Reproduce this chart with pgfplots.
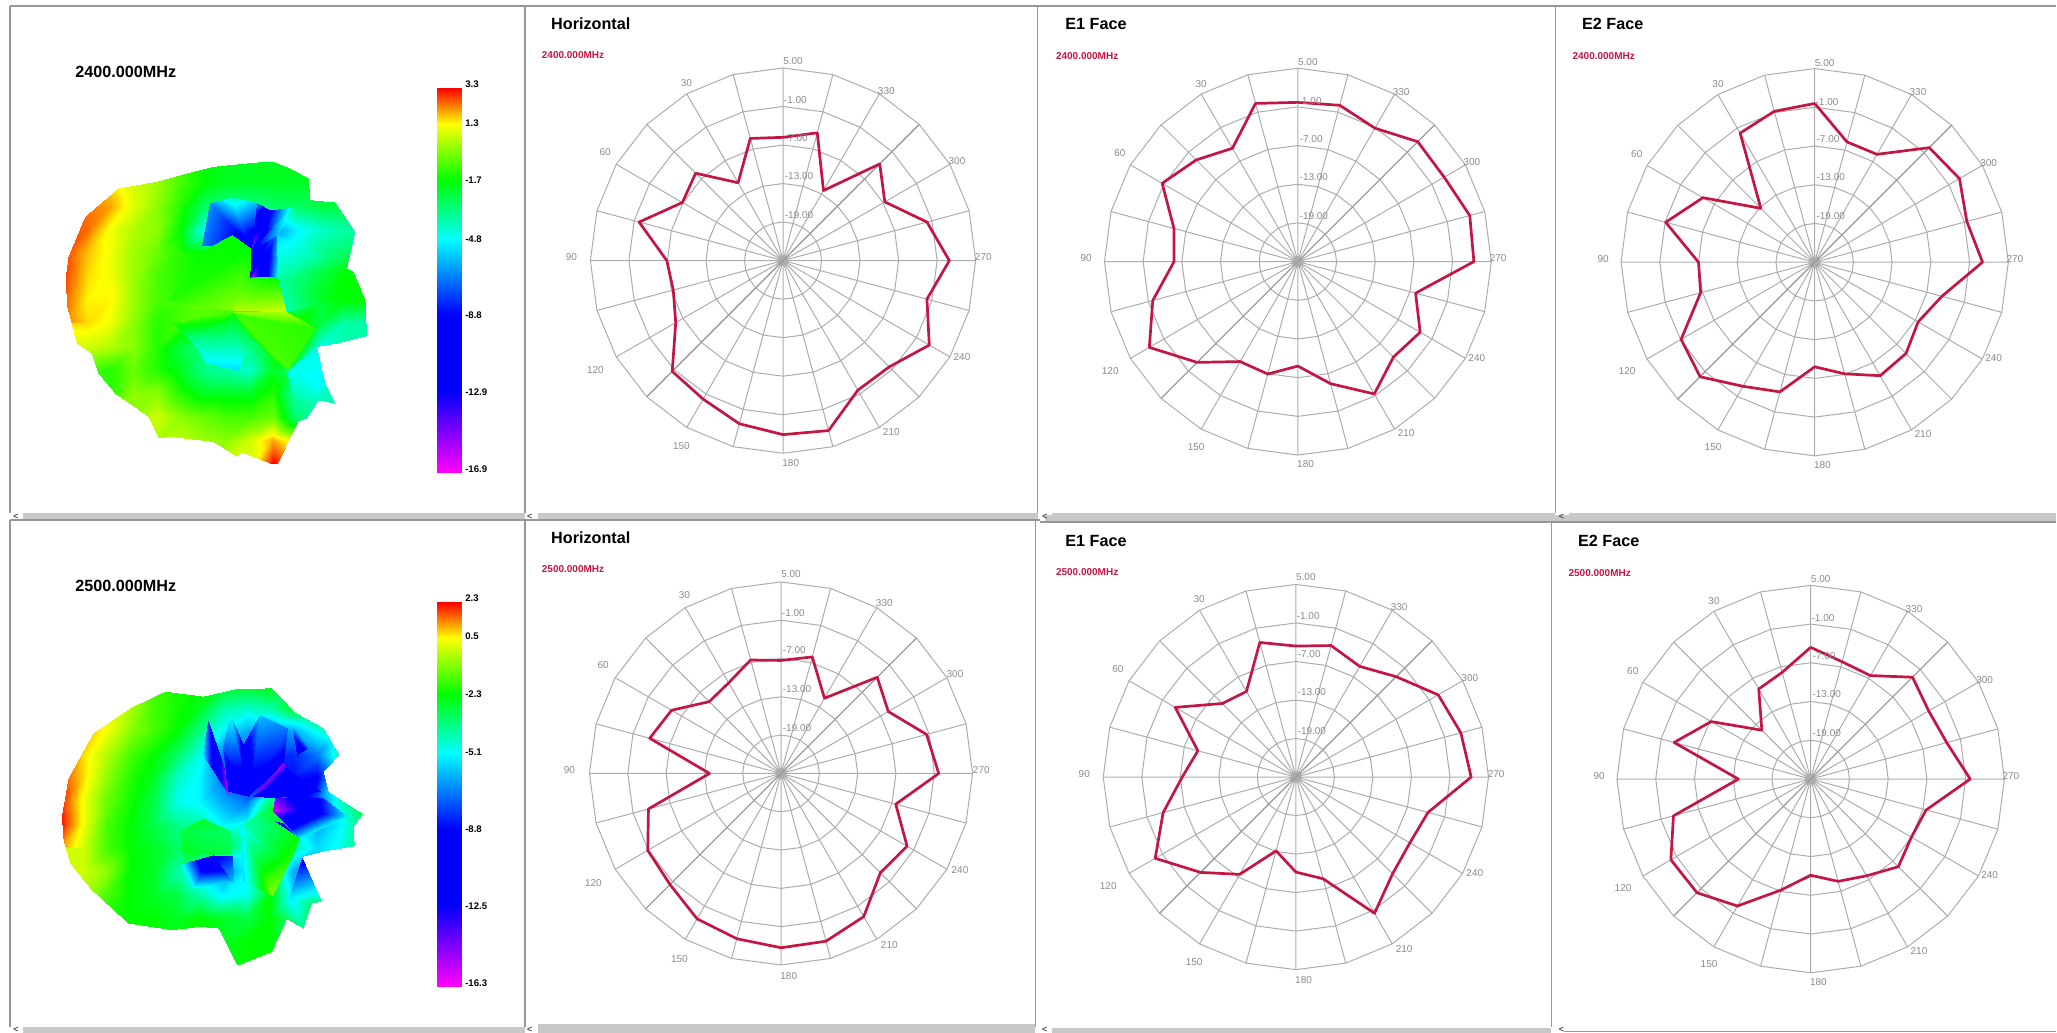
\documentclass[border=0pt]{standalone}
\usepackage{pgfplots}
\usepackage{pgfplotstable}
\usepackage{fontspec}
\setmainfont{Liberation Sans}
\pgfplotsset{compat=1.18}
\usepgfplotslibrary{polar}
\definecolor{gridc}{RGB}{172,172,172}
\definecolor{griddk}{RGB}{152,152,152}
\definecolor{tlab}{RGB}{138,138,138}
\definecolor{tracec}{RGB}{196,22,66}
\definecolor{framec}{RGB}{150,150,150}
\definecolor{barc}{RGB}{200,200,200}
\pgfplotsset{colormap={ant}{rgb255(0cm)=(255,0,255); rgb255(21cm)=(0,0,255); rgb255(41cm)=(0,0,255); rgb255(60.7cm)=(0,255,255); rgb255(76cm)=(0,255,0); rgb255(90.7cm)=(255,255,0); rgb255(100cm)=(255,0,0)}}
\newcommand{\fs}[1]{\fontsize{#1}{#1}\selectfont}
% polar data: angle (deg), gain (dB)
\pgfplotstableread{
a Ha Ea Fa Hb Eb Fb
0 -5.8 -0.3 -0.4 -7.3 -4.6 -4.6
15 -5.3 0.4 -0.8 -6.6 -3.3 -7.9
30 -11 -4.7 -1.9 -8.6 -9.6 -8.9
45 -5.75 -2.7 -13.2 -9.1 -8.8 -14.3
60 -6.9 -0.7 -5 -5.2 -3.3 -7.2
75 -1.8 -5.1 -1.1 -3.7 -9.2 -3.1
90 -6.9 -5.8 -7 -13.8 -7.3 -13.8
105 -7.3 -1.7 -6.7 -3.5 -3.6 -3
120 -5.7 1.6 -1.1 -0.9 0.3 0
135 -0.6 -2.9 0.1 -0.4 -4 -0.1
150 -0.1 -7.1 -2.8 1.3 -7.5 -2.3
165 1.3 -6.95 -4.2 1.8 -13.1 -7.2
180 2.1 -8.8 -8.8 2.3 -10.2 -10.1
195 2.4 -5.4 -7.1 2.2 -8.6 -8.6
210 -1.7 -1.3 -4.7 0.9 -0.5 -7.7
225 -1.6 -4.05 -5 -3 -3.7 -5.8
240 1.3 -3.1 -6.5 -2.2 -4.5 -7
255 -1.8 -6.1 -4.6 -6.4 -3.7 -6.5
270 0.9 2.3 1 -0.3 2.3 -0.3
285 -1.8 2.6 -0.6 -1.4 1.6 -3.2
300 -6.7 1.2 0.9 -5.6 0.6 -3.9
315 -3.7 1.3 0.1 -3.7 -2.9 -2.7
330 -12.4 -1.1 -5.7 -11.4 -5.1 -6.5
345 -4.4 0.1 -5.7 -6.1 -3.8 -6.2
360 -5.8 -0.3 -0.4 -7.3 -4.6 -4.6
}\polardata
% colour levels on grids (0 magenta .. 100 red)
\pgfplotstableread[row sep=\\]{
c\\
90\\90\\90\\88\\85\\80\\76\\74\\74\\74\\74\\74\\74\\74\\
96\\94\\92\\88\\85\\80\\76\\74\\74\\74\\74\\74\\74\\74\\
97\\96\\94\\89\\84\\78\\70\\67\\68\\70\\70\\72\\72\\72\\
98\\96\\90\\86\\84\\76\\62\\50\\45\\52\\60\\64\\66\\66\\
98\\93\\90\\85\\82\\78\\76\\78\\42\\58\\64\\68\\70\\70\\
98\\92\\90\\85\\80\\78\\77\\80\\50\\76\\68\\72\\76\\76\\
97\\91\\91\\85\\80\\80\\82\\82\\82\\84\\68\\72\\76\\76\\
96\\92\\90\\84\\78\\80\\80\\78\\78\\78\\78\\72\\66\\66\\
92\\88\\86\\84\\78\\72\\68\\66\\68\\76\\78\\62\\66\\66\\
85\\80\\78\\82\\78\\74\\68\\66\\64\\74\\68\\60\\66\\66\\
82\\80\\78\\84\\84\\78\\74\\74\\74\\78\\64\\64\\66\\66\\
84\\84\\84\\84\\88\\84\\82\\80\\80\\82\\68\\66\\66\\66\\
86\\86\\86\\86\\86\\87\\85\\84\\88\\94\\88\\70\\70\\70\\
86\\86\\86\\86\\86\\87\\86\\88\\88\\100\\92\\70\\70\\70\\
}\blobA
\pgfplotstableread[row sep=\\]{
x y c\\
755 748 34\\ 605 735 50\\ 630 610 52\\
755 748 34\\ 630 610 52\\ 700 590 66\\
755 748 30\\ 700 590 66\\ 770 610 55\\
755 748 6\\ 770 610 52\\ 810 630 32\\
755 748 30\\ 810 630 40\\ 880 620 66\\
755 748 36\\ 880 620 66\\ 830 705 56\\
500 900 78\\ 620 745 76\\ 697 705 76\\
500 900 78\\ 697 705 76\\ 750 745 76\\
500 900 78\\ 750 745 76\\ 700 930 84\\
750 745 76\\ 750 830 78\\ 700 930 84\\
700 930 86\\ 750 830 78\\ 835 835 76\\
700 930 86\\ 835 835 76\\ 860 935 88\\
750 830 32\\ 755 750 30\\ 830 705 50\\
752 828 8\\ 830 705 52\\ 835 830 62\\
835 835 66\\ 830 705 58\\ 960 760 66\\
835 835 66\\ 960 760 66\\ 1040 810 76\\
835 835 66\\ 1040 810 76\\ 1000 900 76\\
835 835 66\\ 1000 900 76\\ 860 935 66\\
700 935 80\\ 520 970 78\\ 580 1030 66\\
700 935 78\\ 580 1030 66\\ 620 1090 60\\
700 935 76\\ 620 1090 60\\ 715 1110 58\\
700 935 76\\ 715 1110 58\\ 755 1010 72\\
700 935 80\\ 755 1010 76\\ 860 1110 80\\
700 935 80\\ 860 1110 80\\ 945 985 78\\
700 935 84\\ 945 985 78\\ 860 935 86\\
860 1115 62\\ 945 1040 62\\ 975 1150 60\\
860 1115 62\\ 975 1150 60\\ 900 1260 70\\
}\creaseA
\pgfplotstableread[row sep=\\]{
c\\
90\\90\\90\\86\\80\\77\\76\\74\\74\\76\\76\\76\\76\\76\\
90\\90\\90\\86\\80\\77\\74\\66\\64\\66\\74\\76\\76\\76\\
96\\94\\90\\84\\80\\76\\68\\60\\54\\50\\54\\62\\66\\70\\
96\\92\\86\\80\\76\\70\\62\\50\\50\\46\\44\\50\\66\\70\\
98\\92\\84\\78\\74\\64\\60\\50\\42\\42\\42\\40\\68\\70\\
99\\90\\82\\77\\72\\62\\60\\54\\50\\70\\34\\48\\64\\72\\
100\\90\\80\\76\\72\\68\\66\\60\\62\\70\\48\\54\\60\\70\\
95\\88\\80\\76\\74\\70\\76\\72\\64\\70\\66\\58\\62\\70\\
88\\88\\84\\76\\74\\66\\56\\52\\60\\74\\54\\54\\60\\66\\
86\\86\\80\\76\\74\\72\\66\\60\\62\\76\\58\\60\\60\\66\\
86\\86\\78\\76\\76\\74\\76\\74\\72\\76\\68\\66\\66\\66\\
76\\76\\76\\76\\76\\76\\76\\74\\76\\76\\72\\70\\70\\70\\
76\\76\\76\\76\\76\\76\\76\\74\\76\\76\\74\\72\\72\\72\\
}\blobB
\pgfplotstableread[row sep=\\]{
x y c\\
685 835 6\\ 610 720 58\\ 625 620 46\\
685 835 4\\ 625 620 46\\ 670 750 14\\
745 845 20\\ 685 830 36\\ 670 700 46\\
745 845 30\\ 670 700 48\\ 690 600 62\\
745 845 30\\ 690 600 62\\ 730 690 34\\
745 845 30\\ 730 690 34\\ 780 600 56\\
745 845 34\\ 780 600 56\\ 860 640 50\\
745 845 34\\ 860 640 50\\ 850 745 36\\
760 845 10\\ 850 745 6\\ 870 770 34\\
760 845 20\\ 870 770 34\\ 960 830 38\\
760 845 20\\ 960 830 38\\ 825 850 34\\
890 720 20\\ 880 640 54\\ 920 700 46\\
540 950 72\\ 610 910 74\\ 690 950 70\\
540 950 72\\ 690 950 70\\ 690 1020 72\\
540 950 72\\ 690 1020 72\\ 550 1015 74\\
640 1022 16\\ 530 1050 68\\ 580 1120 62\\
640 1022 20\\ 580 1120 62\\ 700 1100 56\\
640 1022 38\\ 700 1100 56\\ 695 1025 44\\
720 930 64\\ 820 870 74\\ 900 960 76\\
720 930 64\\ 900 960 76\\ 870 1040 78\\
720 930 60\\ 870 1040 78\\ 815 1140 84\\
720 930 60\\ 815 1140 84\\ 730 1100 58\\
820 890 2\\ 825 850 12\\ 970 850 44\\
820 890 2\\ 970 850 44\\ 1040 905 60\\
820 890 6\\ 1040 905 60\\ 900 970 60\\
825 920 6\\ 900 970 60\\ 850 925 44\\
905 1030 38\\ 965 1160 68\\ 870 1140 58\\
870 1140 58\\ 965 1160 68\\ 935 1165 70\\
870 1140 58\\ 935 1165 70\\ 910 1240 68\\
870 1140 58\\ 910 1240 68\\ 860 1212 70\\
}\creaseB
\pgfplotstableread{
x y c
0 0 100
1 0 100
0 1 0
1 1 0
}\barT
\newcommand{\ring}[1]{\addplot[gridc,line width=0.5pt] coordinates {(0,#1)(15,#1)(30,#1)(45,#1)(60,#1)(75,#1)(90,#1)(105,#1)(120,#1)(135,#1)(150,#1)(165,#1)(180,#1)(195,#1)(210,#1)(225,#1)(240,#1)(255,#1)(270,#1)(285,#1)(300,#1)(315,#1)(330,#1)(345,#1)(360,#1)};}
\newcommand{\polarpanel}[4]{%
\begin{polaraxis}[at={(#1*0.5pt,-#2*0.5pt)},anchor=center,width=#3,height=#3,scale only axis,hide axis,clip=false,xmin=0,xmax=360,ymin=0,ymax=30]
\ring{6}\ring{12}\ring{18}\ring{24}\ring{30}
\addplot[gridc,line width=0.5pt] coordinates {(0,30)(0,0)(15,30)(15,0)(30,30)(30,0)(45,30)(45,0)(60,30)(60,0)(75,30)(75,0)(90,30)(90,0)(105,30)(105,0)(120,30)(120,0)(135,30)(135,0)(150,30)(150,0)(165,30)(165,0)(180,30)(180,0)(195,30)(195,0)(210,30)(210,0)(225,30)(225,0)(240,30)(240,0)(255,30)(255,0)(270,30)(270,0)(285,30)(285,0)(300,30)(300,0)(315,30)(315,0)(330,30)(330,0)(345,30)(345,0)};
\addplot[griddk,line width=0.5pt] coordinates {(45,30)(225,30)};
\addplot[tracec,line width=1.35pt,line join=round] table[x expr=\thisrow{a}+90,y expr=\thisrow{#4}+25] {\polardata};
\end{polaraxis}}
\newcommand{\polarlabels}[2]{%
\begin{scope}[shift={(#1,#2)},every node/.style={font=\fs{5},text=tlab,inner sep=0pt,anchor=center}]
\node at (10,-199.7) {5.00};
\node at (12.3,-160.7) {-1.00};
\node at (13.3,-123) {-7.00};
\node at (16,-84.7) {-13.00};
\node at (16,-45.7) {-19.00};
\node at (-96.7,-178) {30};
\node at (103.3,-170) {330};
\node at (174,-99.3) {300};
\node at (200.3,-3.3) {270};
\node at (179,96.3) {240};
\node at (108.3,171.7) {210};
\node at (7.7,202.7) {180};
\node at (-101.7,185.3) {150};
\node at (-187.7,109.3) {120};
\node at (-211.7,-3.3) {90};
\node at (-178,-108.3) {60};
\end{scope}}
\newcommand{\ttl}[3]{\node[anchor=west,inner sep=0pt,font=\fs{8.1}\bfseries] at (#1,#2) {#3};}
\newcommand{\frq}[3]{\node[anchor=west,inner sep=0pt,font=\fs{5}\bfseries,text=tracec] at (#1,#2) {#3};}
\newcommand{\cbl}[2]{\node[anchor=west,inner sep=0pt,font=\fs{4.8}\bfseries] at (465,#1) {#2};}
\newcommand{\chev}[2]{\node[inner sep=0pt,font=\fs{4.5}\bfseries,text=black!70] at (#1,#2) {<};}
\newcommand{\fr}[4]{\addplot[framec,line width=0.75pt] coordinates {(#1,#2)(#3,#4)};}
\newcommand{\sbar}[4]{\addplot[barc,fill=barc,draw=none] coordinates {(#1,#2)(#3,#2)(#3,#4)(#1,#4)} --cycle;}
\begin{document}
\begin{tikzpicture}[x=0.5pt,y=-0.5pt]
\path (0,0) rectangle (2057,1033);
\begin{axis}[at={(0,0)},anchor=north west,width=1028.5pt,height=516.5pt,scale only axis,hide axis,clip=false,xmin=0,xmax=2057,ymin=0,ymax=1033,y dir=reverse,colormap name=ant,point meta min=0,point meta max=100]
\sbar{23}{513}{525}{520}
\sbar{538}{513}{1038}{520}
\sbar{1052}{513}{1556}{520}
\sbar{1570}{513}{2057}{520}
\sbar{23}{1027}{525}{1033}
\sbar{538}{1024}{1035}{1033}
\sbar{1052}{1028}{1552}{1033}
\sbar{1045}{515}{2057}{522}
\fr{10}{6}{2057}{6}
\fr{10}{6}{10}{513}
\fr{525}{6}{525}{513}
\fr{1038}{6}{1038}{513}
\fr{1556}{6}{1556}{513}
\fr{10}{520}{1040}{520}
\fr{1040}{522}{2057}{522}
\fr{10}{520}{10}{1027}
\fr{525}{520}{525}{1027}
\fr{1036}{520}{1036}{1027}
\fr{1552}{522}{1552}{1027}
\fr{1565}{1032}{2057}{1032}
\addplot[surf,shader=interp,mesh/cols=2,point meta=explicit] table[x expr=436.7+25*\thisrow{x},y expr=87.7+384.6*\thisrow{y},meta=c] {\barT};
\addplot[surf,shader=interp,mesh/cols=2,point meta=explicit] table[x expr=436.7+25*\thisrow{x},y expr=601.7+385*\thisrow{y},meta=c] {\barT};
\end{axis}
\begin{scope}[x=0.16667pt,y=-0.16667pt]
\clip (820,485)--(870,505)--(925,535)--(930,600)--(1005,607)--(1065,695)--(1040,805)--(1060,815)--(1095,900)--(1103,1007)--(1010,1030)--(950,1040)--(975,1150)--(1005,1210)--(955,1200)--(920,1255)--(895,1262)--(830,1397)--(725,1357)--(712,1370)--(640,1325)--(515,1310)--(475,1313)--(445,1250)--(410,1225)--(345,1180)--(295,1120)--(275,1060)--(230,1030)--(200,915)--(197,830)--(205,770)--(255,650)--(355,565)--(470,545)--(560,520)--(640,500)--(770,487)--cycle;
\begin{axis}[at={(0,0)},anchor=north west,width=262.5pt,height=260pt,scale only axis,hide axis,xmin=0,xmax=1575,ymin=0,ymax=1560,y dir=reverse,colormap name=ant,point meta min=0,point meta max=100]
\addplot[surf,shader=interp,mesh/cols=14,point meta=explicit] table[x index=0,y index=0,x expr={190+70*mod(\coordindex,14)},y expr={480+70*floor(\coordindex/14)},meta=c] {\blobA};
\addplot[patch,shader=interp,point meta=explicit] table[x=x,y=y,meta=c] {\creaseA};
\end{axis}
\end{scope}
\begin{scope}[x=0.16667pt,y=-0.16667pt,yshift=-257.5pt]
\clip (815,520)--(850,555)--(880,590)--(970,640)--(1017,720)--(970,770)--(985,830)--(1045,870)--(1088,897)--(1060,935)--(1063,993)--(965,1010)--(905,1025)--(965,1160)--(935,1165)--(910,1240)--(860,1212)--(815,1310)--(712,1352)--(655,1240)--(600,1235)--(515,1245)--(385,1225)--(335,1180)--(270,1120)--(210,1045)--(190,975)--(185,905)--(205,790)--(280,655)--(390,580)--(495,530)--(610,545)--(710,522)--cycle;
\begin{axis}[at={(0,0)},anchor=north west,width=262.5pt,height=260pt,scale only axis,hide axis,xmin=0,xmax=1575,ymin=0,ymax=1560,y dir=reverse,colormap name=ant,point meta min=0,point meta max=100]
\addplot[surf,shader=interp,mesh/cols=14,point meta=explicit] table[x index=0,y index=0,x expr={180+70*mod(\coordindex,14)},y expr={510+70*floor(\coordindex/14)},meta=c] {\blobB};
\addplot[patch,shader=interp,point meta=explicit] table[x=x,y=y,meta=c] {\creaseB};
\end{axis}
\end{scope}
\polarpanel{783.3}{260.7}{192.7pt}{Ha}
\polarpanel{1298.3}{261.7}{193.5pt}{Ea}
\polarpanel{1815.3}{262.3}{193.7pt}{Fa}
\polarpanel{781.3}{773.7}{191.6pt}{Hb}
\polarpanel{1296.3}{777.3}{192.7pt}{Eb}
\polarpanel{1811.3}{779.3}{193.8pt}{Fb}
\polarlabels{783.3}{260.7}
\polarlabels{1298.3}{261.7}
\polarlabels{1815.3}{262.3}
\polarlabels{781.3}{773.7}
\polarlabels{1296.3}{777.3}
\polarlabels{1811.3}{779.3}
\ttl{551}{24}{Horizontal}
\ttl{551}{537.7}{Horizontal}
\ttl{1065.3}{24}{E1 Face}
\ttl{1065.3}{540.7}{E1 Face}
\ttl{1582.3}{24}{E2 Face}
\ttl{1578.3}{541}{E2 Face}
\frq{541.7}{55}{2400.000MHz}
\frq{541.7}{569}{2500.000MHz}
\frq{1056}{55.7}{2400.000MHz}
\frq{1056}{572.3}{2500.000MHz}
\frq{1572.7}{56}{2400.000MHz}
\frq{1568.7}{573}{2500.000MHz}
\node[anchor=west,inner sep=0pt,font=\fs{8.1}\bfseries] at (75,72.3) {2400.000MHz};
\node[anchor=west,inner sep=0pt,font=\fs{8.1}\bfseries] at (75,586) {2500.000MHz};
\cbl{84.3}{3.3}\cbl{123}{1.3}\cbl{180.3}{-1.7}\cbl{239}{-4.8}\cbl{315.3}{-8.8}\cbl{392.3}{-12.9}\cbl{469.3}{-16.9}
\cbl{598}{2.3}\cbl{636.7}{0.5}\cbl{694.3}{-2.3}\cbl{752.7}{-5.1}\cbl{829.3}{-8.8}\cbl{906}{-12.5}\cbl{983.3}{-16.3}
\chev{16}{517}\chev{530}{517}\chev{1045}{517}\chev{1562}{517}
\chev{16}{1030}\chev{530}{1030}\chev{1045}{1030}\chev{1562}{1030}
\end{tikzpicture}
\end{document}
